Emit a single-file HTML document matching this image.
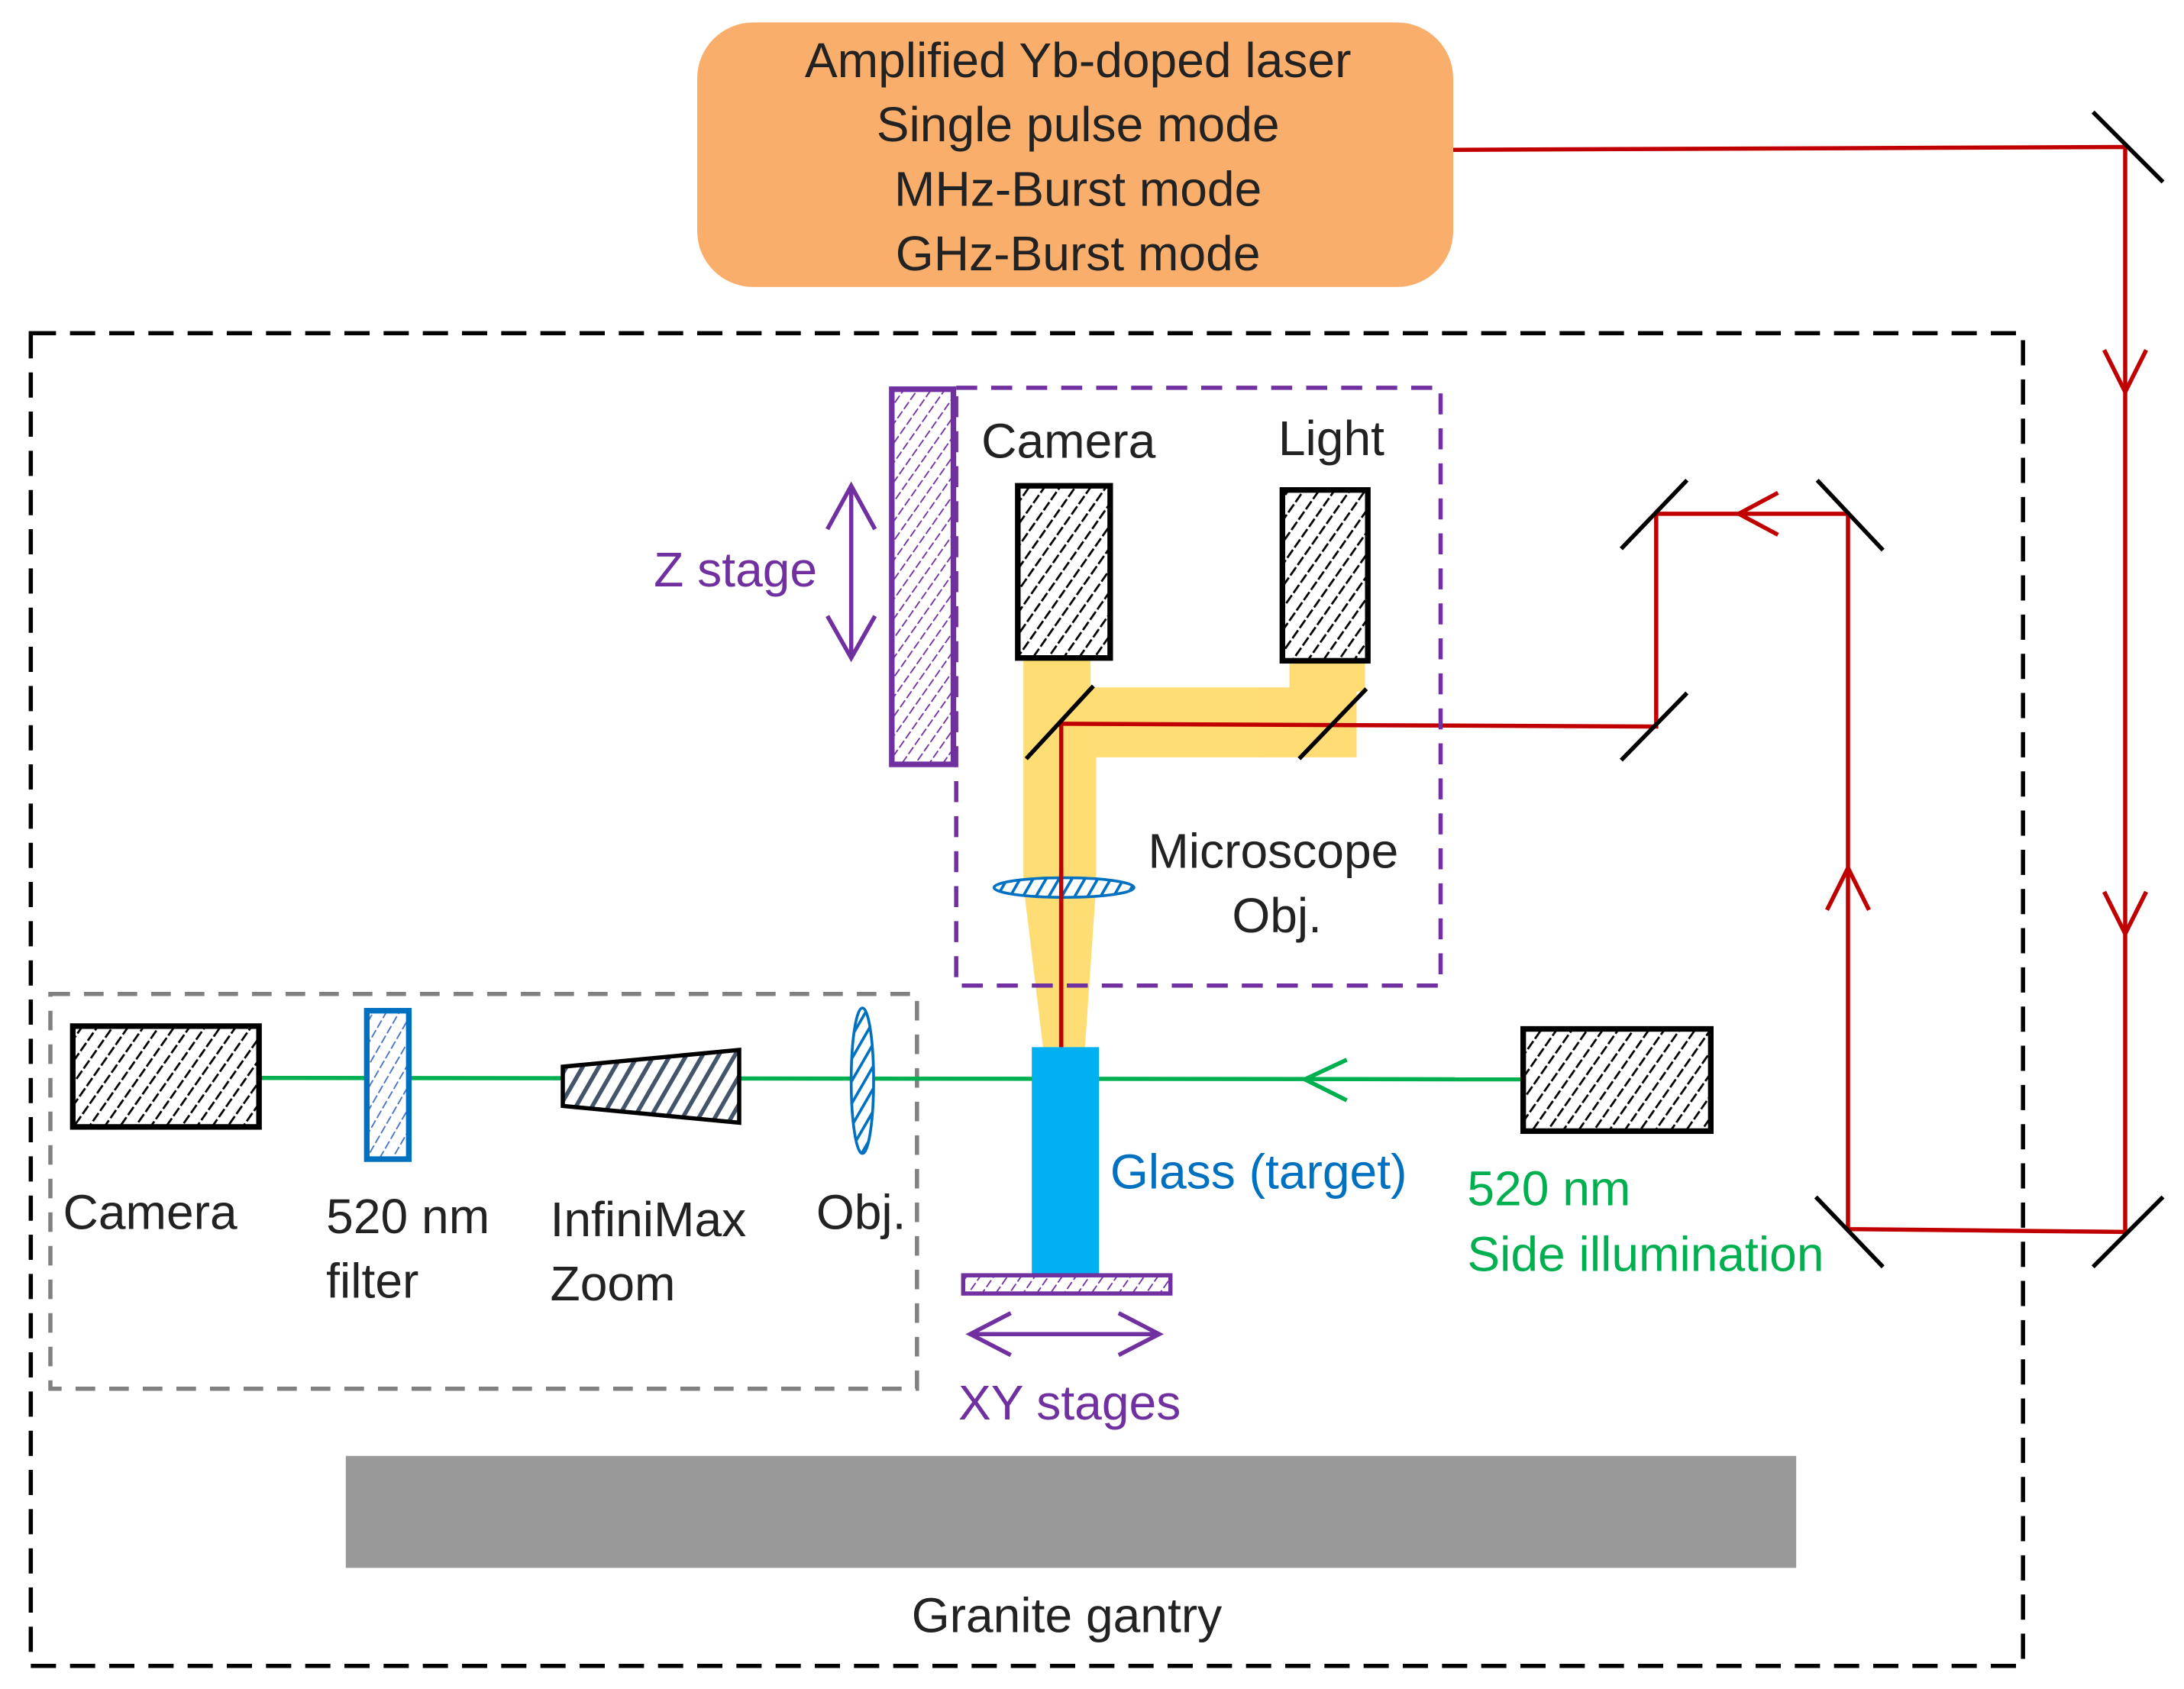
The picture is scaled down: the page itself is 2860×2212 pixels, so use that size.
<!DOCTYPE html>
<html><head><style>html,body{margin:0;padding:0;background:#fff}svg{display:block}text{font-family:"Liberation Sans",sans-serif;font-size:35px}</style></head>
<body>
<svg width="2860" height="2212" viewBox="0 0 1560 1206.5" xmlns="http://www.w3.org/2000/svg">
<defs>
<pattern id="hk" width="9" height="9" patternUnits="userSpaceOnUse" patternTransform="rotate(35)"><rect width="9" height="9" fill="#fff"/><line x1="0" y1="0" x2="0" y2="9" stroke="#000" stroke-width="3" stroke-dasharray="6 2"/></pattern>
<pattern id="hp" width="8" height="8" patternUnits="userSpaceOnUse" patternTransform="rotate(35)"><rect width="8" height="8" fill="#fff"/><line x1="0" y1="0" x2="0" y2="8" stroke="#7030A0" stroke-width="2" stroke-dasharray="5 2"/></pattern>
<pattern id="hb" width="8" height="8" patternUnits="userSpaceOnUse" patternTransform="rotate(30)"><rect width="8" height="8" fill="#fff"/><line x1="0" y1="0" x2="0" y2="8" stroke="#4472C4" stroke-width="2" stroke-dasharray="5 2"/></pattern>
<pattern id="hl" width="8" height="8" patternUnits="userSpaceOnUse" patternTransform="rotate(30)"><rect width="8" height="8" fill="#fff"/><line x1="0" y1="0" x2="0" y2="8" stroke="#0070C0" stroke-width="4"/></pattern>
<pattern id="hd" width="10" height="10" patternUnits="userSpaceOnUse" patternTransform="rotate(30)"><rect width="10" height="10" fill="#fff"/><line x1="0" y1="0" x2="0" y2="10" stroke="#44546A" stroke-width="6"/></pattern>
</defs>
<rect x="498" y="16" width="540" height="189" rx="40" fill="#FAAE6B"/>
<g text-anchor="middle" fill="#222" style="font-size:36px">
<text x="770" y="55">Amplified Yb-doped laser</text>
<text x="770" y="101">Single pulse mode</text>
<text x="770" y="147">MHz-Burst mode</text>
<text x="770" y="193">GHz-Burst mode</text>
</g>
<rect x="22" y="238" width="1423" height="952" fill="none" stroke="#000" stroke-width="3" stroke-dasharray="18 10"/>
<rect x="36" y="710" width="619" height="282" fill="none" stroke="#808080" stroke-width="3" stroke-dasharray="14 10"/>
<g fill="#FFD966" opacity="0.9">
<polygon points="731,470 779,470 779,491 969,491 969,541 783,541 783,632 775,748 745,748 731,632"/>
<rect x="921" y="472" width="54" height="22"/>
</g>
<g stroke="#C00000" stroke-width="3" fill="none">
<polyline points="1038,107 1518,105 1518,880 1320,878 1320,367 1183,367 1183,519 758,517 758,748"/>
<polyline points="1503,250 1518,280 1533,250"/>
<polyline points="1503,637 1518,667 1533,637"/>
<polyline points="1305,650 1320,620 1335,650"/>
<polyline points="1270,352 1242,367 1270,382"/>
</g>
<g stroke="#000" stroke-width="3">
<line x1="1495" y1="80" x2="1545" y2="130"/>
<line x1="1495" y1="905" x2="1545" y2="855"/>
<line x1="1297" y1="855" x2="1345" y2="905"/>
<line x1="1298" y1="343" x2="1345" y2="393"/>
<line x1="1158" y1="392" x2="1205" y2="343"/>
<line x1="1158" y1="543" x2="1205" y2="495"/>
<line x1="733" y1="542" x2="781" y2="490"/>
<line x1="928" y1="542" x2="976" y2="492"/>
</g>
<rect x="637" y="278" width="44" height="268" fill="url(#hp)" stroke="#7030A0" stroke-width="4"/>
<rect x="683" y="277" width="346" height="427" fill="none" stroke="#7030A0" stroke-width="3" stroke-dasharray="15 10"/>
<g stroke="#7030A0" stroke-width="3" fill="none">
<line x1="608" y1="347" x2="608" y2="470"/>
<polyline points="591,378 608,347 625,378"/><polyline points="591,440 608,470 625,440"/>
<line x1="693" y1="953" x2="828" y2="953"/>
<polyline points="722,938 693,953 722,968"/><polyline points="799,938 828,953 799,968"/>
</g>
<text x="467" y="419" fill="#7030A0">Z stage</text>
<rect x="727" y="347" width="66" height="123" fill="url(#hk)" stroke="#000" stroke-width="4"/>
<rect x="916" y="350" width="61" height="122" fill="url(#hk)" stroke="#000" stroke-width="4"/>
<text x="701" y="327" fill="#222">Camera</text>
<text x="913" y="325" fill="#222">Light</text>
<ellipse cx="760" cy="634" rx="50" ry="7" fill="url(#hl)" stroke="#0070C0" stroke-width="2"/>
<line x1="758" y1="620" x2="758" y2="748" stroke="#C00000" stroke-width="3"/>
<text x="820" y="620" fill="#222">Microscope</text>
<text x="880" y="666" fill="#222">Obj.</text>
<line x1="186" y1="770" x2="1088" y2="771" stroke="#00B050" stroke-width="3"/>
<polyline points="962,757 932,771 962,786" fill="none" stroke="#00B050" stroke-width="3"/>
<rect x="737" y="748" width="48" height="162" fill="#00B0F0"/>
<rect x="688" y="911" width="148" height="13" fill="url(#hp)" stroke="#7030A0" stroke-width="3"/>
<text x="793" y="849" fill="#0070C0">Glass (target)</text>
<text x="764" y="1014" fill="#7030A0" text-anchor="middle">XY stages</text>
<rect x="52" y="733" width="133" height="72" fill="url(#hk)" stroke="#000" stroke-width="4"/>
<rect x="262" y="722" width="30" height="106" fill="url(#hb)" stroke="#0070C0" stroke-width="4"/>
<polygon points="402,762 528,750 528,802 402,790" fill="url(#hd)" stroke="#000" stroke-width="3"/>
<ellipse cx="616" cy="772" rx="8" ry="52" fill="url(#hl)" stroke="#0070C0" stroke-width="2"/>
<g fill="#222">
<text x="45" y="878">Camera</text>
<text x="233" y="881">520 nm</text><text x="233" y="927">filter</text>
<text x="393" y="883">InfiniMax</text><text x="393" y="929">Zoom</text>
<text x="583" y="878">Obj.</text>
</g>
<rect x="1088" y="735" width="134" height="73" fill="url(#hk)" stroke="#000" stroke-width="4"/>
<text x="1048" y="861" fill="#00B050">520 nm</text>
<text x="1048" y="908" fill="#00B050">Side illumination</text>
<rect x="247" y="1040" width="1036" height="80" fill="#999"/>
<text x="762" y="1166" text-anchor="middle" fill="#222">Granite gantry</text>
</svg>
</body></html>
